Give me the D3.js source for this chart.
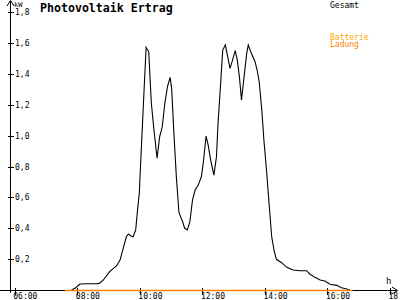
<!DOCTYPE html>
<html><head><meta charset="utf-8">
<script src="https://cdn.jsdelivr.net/npm/d3@7"></script>
<style>
html,body{margin:0;padding:0;background:#fff;}
svg{display:block;}
text{font-family:"DejaVu Sans Mono","Liberation Mono",monospace;}
</style></head>
<body>
<svg id="c" width="400" height="300"></svg>
<script>
// Data
const gesamtTimes = ["07:49","07:57","08:05","08:18","08:37","08:42","08:50","09:02","09:15","09:22","09:28","09:34","09:38","09:43","09:47","09:52","09:55","09:59","10:00","10:06","10:12","10:17","10:22","10:27","10:33","10:38","10:43","10:48","10:53","10:58","11:01","11:05","11:10","11:15","11:22","11:26","11:31","11:36","11:41","11:46","11:52","11:58","12:02","12:07","12:11","12:16","12:22","12:27","12:30","12:35","12:39","12:44","12:53","12:57","13:03","13:07","13:11","13:15","13:20","13:25","13:28","13:34","13:41","13:45","13:49","13:54","13:58","14:03","14:08","14:13","14:18","14:22","14:32","14:42","14:54","15:07","15:20","15:26","15:36","15:46","15:55","16:05","16:18","16:27","16:37","16:43"];
const gesamtValues = [0.00,0.015,0.039,0.041,0.041,0.043,0.065,0.119,0.156,0.194,0.27,0.345,0.363,0.35,0.345,0.389,0.50,0.63,0.713,1.147,1.573,1.544,1.212,1.037,0.854,0.994,1.058,1.212,1.318,1.378,1.307,1.037,0.734,0.501,0.443,0.40,0.389,0.443,0.583,0.648,0.68,0.734,0.831,0.998,0.94,0.84,0.745,0.864,1.08,1.34,1.555,1.588,1.437,1.48,1.551,1.49,1.382,1.231,1.382,1.534,1.588,1.534,1.48,1.426,1.35,1.166,0.972,0.778,0.557,0.345,0.248,0.199,0.177,0.147,0.13,0.125,0.125,0.104,0.082,0.065,0.058,0.037,0.03,0.015,0.006,0.0];
const batterieTimes = ["07:36","16:48"];
const batterieValues = [0,0];
const yTickValues = [0.2,0.4,0.6,0.8,1.0,1.2,1.4,1.6,1.8];
const xTickValues = [6,8,10,12,14,16,18];
const xTickLabels = ["06:00","08:00","10:00","12:00","14:00","16:00","18:00"];

const toH = s => { const [h,m] = s.split(":").map(Number); return h + m/60; };

const svg = d3.select("#c");
const x = d3.scaleLinear().domain([6,18]).range([14.8,390]);
const y = d3.scaleLinear().domain([0,1.8]).range([290,12.3]);

// Axis lines with arrows
const axisG = svg.append("g").attr("stroke","#000").attr("stroke-width",1).attr("shape-rendering","crispEdges");
const y0 = Math.round(y(0)) + 0.5;
axisG.append("line").attr("x1",0).attr("x2",397).attr("y1",y0).attr("y2",y0);
axisG.append("line").attr("x1",10.5).attr("x2",10.5).attr("y1",y0+2).attr("y2",1);
const arr = svg.append("g").attr("stroke","#000").attr("fill","none").attr("stroke-width",1);
arr.append("path").attr("d",`M392,${y0-3.5}L397.5,${y0}L392,${y0+3.5}`);
arr.append("path").attr("d",`M7,6L10.5,0.5L14,6`);

// Y axis ticks
const yAxis = svg.append("g").attr("transform","translate(10.5,0)")
  .call(d3.axisLeft(y).tickValues(yTickValues).tickSize(3)
    .tickFormat(d => d3.format(".1f")(d).replace(".",",")));
yAxis.select(".domain").remove();
yAxis.selectAll(".tick line").attr("x1",-3).attr("x2",3).attr("stroke","#000").attr("shape-rendering","crispEdges");
yAxis.selectAll(".tick text").attr("x",4.5).attr("dy","0.32em").attr("text-anchor","start")
  .attr("font-size",8).attr("fill","#000").attr("font-family","DejaVu Sans Mono, monospace");

// X axis ticks
const xAxis = svg.append("g").attr("transform",`translate(0,${y0})`)
  .call(d3.axisBottom(x).tickValues(xTickValues).tickSize(4)
    .tickFormat((d,i) => xTickLabels[i]));
xAxis.select(".domain").remove();
xAxis.selectAll(".tick line").attr("y1",-3).attr("y2",4).attr("stroke","#000").attr("shape-rendering","crispEdges");
xAxis.selectAll(".tick text").attr("x",-2).attr("y",8.5).attr("dy",0).attr("text-anchor","start")
  .attr("font-size",8).attr("fill","#000").attr("font-family","DejaVu Sans Mono, monospace");

// Lines
const line = d3.line().x(d => x(d[0])).y(d => y(d[1]));
svg.append("path")
  .datum(gesamtTimes.map((t,i) => [toH(t), gesamtValues[i]]))
  .attr("d", line).attr("fill","none").attr("stroke","#000").attr("stroke-width",1.1);
svg.append("path")
  .datum(batterieTimes.map((t,i) => [toH(t), batterieValues[i]]))
  .attr("d", d3.line().x(d => x(d[0])).y(d => y0 + 0 * d[1]))
  .attr("fill","none").attr("stroke","#ff8000").attr("stroke-width",1.5);

// Texts
svg.append("text").attr("x",40).attr("y",12).attr("font-size",11.6).attr("font-weight","bold").attr("fill","#000").text("Photovoltaik Ertrag");
svg.append("text").attr("x",14).attr("y",7).attr("font-size",7).attr("fill","#000").text("kW");
svg.append("text").attr("x",386).attr("y",284).attr("font-size",9).attr("fill","#000").text("h");
svg.append("text").attr("x",330).attr("y",8).attr("font-size",8).attr("fill","#000").text("Gesamt");
svg.append("text").attr("x",330).attr("y",39.5).attr("font-size",8).attr("fill","#ffa500").text("Batterie");
svg.append("text").attr("x",330).attr("y",47).attr("font-size",8).attr("fill","#ff8000").text("Ladung");
</script>
</body></html>
